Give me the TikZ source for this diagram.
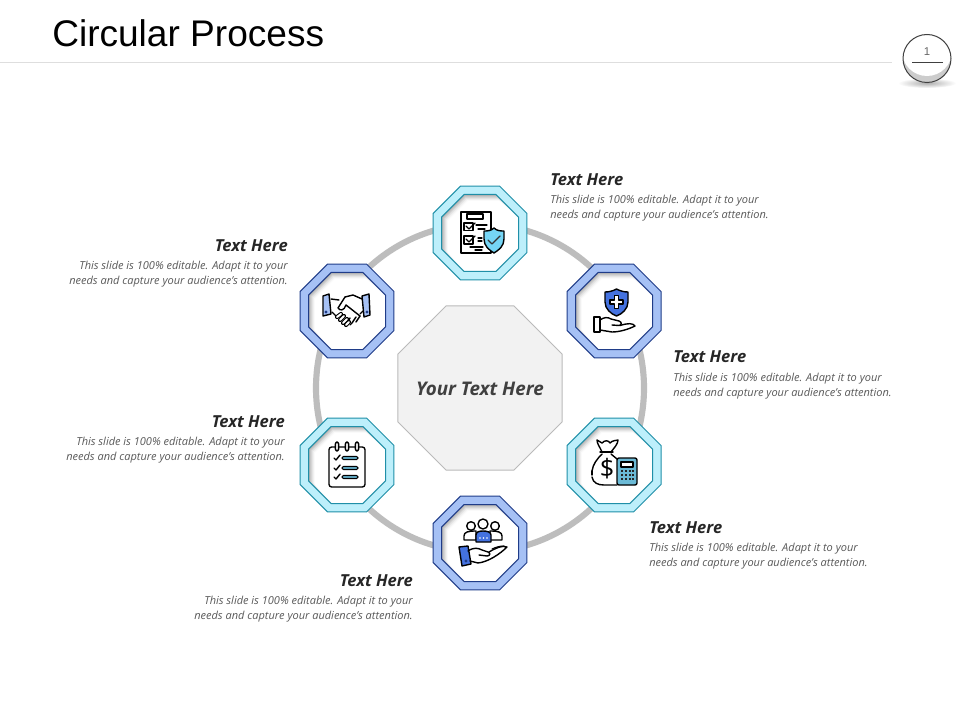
\documentclass[tikz,border=0pt]{standalone}
\usepackage{fontspec}
\setmainfont{Open Sans}
\newfontfamily\titlefont{Liberation Sans}
\usetikzlibrary{shapes.geometric}
\definecolor{cyanfill}{HTML}{BDEFFB}
\definecolor{cyanline}{HTML}{1F8FA8}
\definecolor{bluefill}{HTML}{A6C1F5}
\definecolor{blueline}{HTML}{1F3C88}
\definecolor{iconcyan}{HTML}{75D5F5}
\definecolor{iconblue}{HTML}{4472E0}
\definecolor{calcblue}{HTML}{6BBAD6}
\tikzset{
  x=0.75pt,y=-0.75pt,
  ic/.style={draw=black,line width=1.05pt,line join=round,line cap=round},
  thinic/.style={draw=black,line width=0.8pt,line join=round,line cap=round},
  octo/.style={regular polygon,regular polygon sides=8,inner sep=0pt,outer sep=0pt,minimum size=76.3pt,line width=0.75pt},
  headtxt/.style={font=\fontsize{12.4pt}{15pt}\selectfont\bfseries\itshape,text=black!85,inner sep=0pt},
  bodyL/.style={font=\fontsize{8.25pt}{11.25pt}\selectfont\itshape,text=black!65,inner sep=0pt,align=left,anchor=north west},
  bodyR/.style={font=\fontsize{8.25pt}{11.25pt}\selectfont\itshape,text=black!65,inner sep=0pt,align=right,anchor=north east},
}
\newcommand{\octoitem}[5]{%
  \node[octo,draw=#5,fill=#4] (#1) at (#2,#3) {};
  \begin{scope}[shift={(#2,#3)}]
    \begin{scope}
      \clip (-15.9,-38.5) -- (15.9,-38.5) -- (38.5,-15.9) -- (38.5,15.9) -- (15.9,38.5) -- (-15.9,38.5) -- (-38.5,15.9) -- (-38.5,-15.9) -- cycle;
      \fill[black!32] (-40,-40) rectangle (40,40);
      \foreach \k/\g in {1/24,2/17,3/11,4/6,5/2,6/0}{
        \fill[black!\g] ({-15.9+\k*0.6},{-38.5+\k*1.1}) -- ({15.9+\k*0.6},{-38.5+\k*1.1}) -- ({38.5+\k*0.8},{-15.9+\k*0.6}) -- ({38.5+\k*0.8},{15.9+\k*0.6}) -- ({15.9+\k*0.6},{38.5+\k*0.8}) -- ({-15.9+\k*0.6},{38.5+\k*0.8}) -- ({-38.5+\k*1.1},{15.9+\k*0.6}) -- ({-38.5+\k*1.1},{-15.9+\k*0.6}) -- cycle;
      }
    \end{scope}
    \draw[#5,line width=0.75pt,line join=round] (-15.9,-38.5) -- (15.9,-38.5) -- (38.5,-15.9) -- (38.5,15.9) -- (15.9,38.5) -- (-15.9,38.5) -- (-38.5,15.9) -- (-38.5,-15.9) -- cycle;
  \end{scope}
}
\newcommand{\capsule}[4]{\draw[black,line width=3.1pt,line cap=round] (#1,#2) -- (#3,#4); \draw[white,line width=1.5pt,line cap=round] (#1,#2) -- (#3,#4);}
\begin{document}
\begin{tikzpicture}
\useasboundingbox (0,0) rectangle (960,720);
\fill[white] (0,0) rectangle (960,720);

% header
\node[font=\titlefont\fontsize{27.8pt}{32pt}\selectfont,text=black,anchor=base west,inner sep=0pt] (title) at (52,47) {Circular Process};
\coordinate (ruleL) at (0,63);
\coordinate (ruleR) at (892,63);
\draw[black!13,line width=0.75pt] (ruleL) -- (ruleR);

% page badge
\shade[inner color=black!32,outer color=white] (927,83) ellipse (29 and 5);
\node[circle,minimum size=36pt,inner sep=0pt,fill=white] (badge) at (927,58.5) {};
\begin{scope}
  \clip (927,58.5) circle (24);
  \fill[black!20] (903,34) rectangle (951,83);
  \fill[white] (927,51) circle (25);
\end{scope}
\draw[black!75,line width=0.75pt] (927,58.5) circle (24);
\node[font=\fontsize{8.5pt}{10pt}\selectfont\titlefont,text=black!60,inner sep=0pt] (pageno) at (927,52) {1};
\coordinate (pl) at (912,63);
\coordinate (pr) at (943,63);
\draw[black!75,line width=0.75pt] (pl) -- (pr);

% ring
\draw[black!26,line width=4.6pt] (480,388) circle (164);

% centre
\node[octo,minimum size=133.2pt,fill=black!5,draw=black!27] (centre) at (480,388) {};
\node[font=\fontsize{14.1pt}{16pt}\selectfont\bfseries\itshape,text=black!75,inner sep=0pt] (centretxt) at (480,389) {Your Text Here};

% octagons
\octoitem{top}{480}{233}{cyanfill}{cyanline}
\octoitem{ur}{614}{311}{bluefill}{blueline}
\octoitem{lr}{614}{465}{cyanfill}{cyanline}
\octoitem{bot}{480}{543}{bluefill}{blueline}
\octoitem{ll}{347}{465}{cyanfill}{cyanline}
\octoitem{ul}{347}{311}{bluefill}{blueline}

% labels
\node[headtxt,anchor=base west] (h1) at (550,186) {Text Here};
\node[bodyL] (b1) at (550,195) {This slide is 100\% editable. Adapt it to your\\needs and capture your audience's attention.};
\node[headtxt,anchor=base west] (h2) at (673,362) {Text Here};
\node[bodyL] (b2) at (673,373) {This slide is 100\% editable. Adapt it to your\\needs and capture your audience's attention.};
\node[headtxt,anchor=base west] (h3) at (649,533) {Text Here};
\node[bodyL] (b3) at (649,543) {This slide is 100\% editable. Adapt it to your\\needs and capture your audience's attention.};
\node[headtxt,anchor=base east] (h4) at (413,586) {Text Here};
\node[bodyR] (b4) at (413,596) {This slide is 100\% editable. Adapt it to your\\needs and capture your audience's attention.};
\node[headtxt,anchor=base east] (h5) at (285,427) {Text Here};
\node[bodyR] (b5) at (285,437) {This slide is 100\% editable. Adapt it to your\\needs and capture your audience's attention.};
\node[headtxt,anchor=base east] (h6) at (288,252) {Text Here};
\node[bodyR] (b6) at (288,261) {This slide is 100\% editable. Adapt it to your\\needs and capture your audience's attention.};

% icon: checklist + shield
\begin{scope}[shift={(480,233)}]
  \draw[ic,fill=white] (-19,-21) rectangle (11,20);
  \draw[thinic] (-13,-19) rectangle (3,-14);
  \draw[thinic] (-16,-10) rectangle (-7,-2.5);
  \draw[thinic] (-16,3) rectangle (-7,11);
  \draw[ic] (-14,-7) -- (-11,-4) -- (-5,-10);
  \draw[ic] (-14,6) -- (-11,9) -- (-5,3);
  \draw[thinic] (-4,-8) -- (7,-8) (-2,-4) -- (5,-4) (-2,5) -- (2,5) (-2,8) -- (2,8) (-10,14) -- (3,14) (-5,17) -- (2,17);
  \draw[ic,fill=iconcyan] (14,-5) .. controls (11,-2) and (7,-2) .. (4,-2) -- (4,6) .. controls (4,13) and (9,17) .. (14,20) .. controls (19,17) and (24,13) .. (24,6) -- (24,-2) .. controls (21,-2) and (17,-2) .. (14,-5) -- cycle;
  \draw[ic,draw=black!80] (8,7) -- (12,11) -- (20,3);
\end{scope}

% icon: shield + hand
\begin{scope}[shift={(614,311)}]
  \draw[ic,fill=iconblue] (2.5,-22) .. controls (-1,-20) and (-5,-19) .. (-9,-19) -- (-9,-9) .. controls (-9,-2) and (-3,3) .. (2.5,5) .. controls (8,3) and (14,-2) .. (14,-9) -- (14,-19) .. controls (10,-19) and (6,-20) .. (2.5,-22) -- cycle;
  \draw[ic,fill=white] (0.5,-15.5) -- (4.5,-15.5) -- (4.5,-11) -- (9,-11) -- (9,-7) -- (4.5,-7) -- (4.5,-2.5) -- (0.5,-2.5) -- (0.5,-7) -- (-4,-7) -- (-4,-11) -- (0.5,-11) -- cycle;
  \draw[ic,fill=white] (-20,6) rectangle (-14,21);
  \draw[ic] (-14,9) .. controls (-10,6) and (-6,6) .. (-3,8) -- (5,10) .. controls (8,11) and (8,14) .. (5,14.5) -- (-2,14);
  \draw[ic] (-14,19) -- (-2,21) .. controls (6,21) and (15,18) .. (21,15) .. controls (19,12) and (14,12) .. (6,14.5);
\end{scope}

% icon: handshake
\begin{scope}[shift={(347,311)}]
  \draw[ic,fill=bluefill] (-24,-15) -- (-18,-17) -- (-16,3) -- (-24,5) -- cycle;
  \draw[ic,fill=bluefill] (15,-15) -- (22,-17) -- (23,4) -- (17,6) -- cycle;
  \fill[blueline] (-21,1) circle (1.7) (20,1) circle (1.7);
  \draw[ic] (-16,-12) -- (-8,-11) (-2,-14) -- (6,-16) -- (15,-12);
  \draw[ic] (-9,-3) -- (-2,-14) (-9,-3) .. controls (-7,0) and (-3,0) .. (-1,-6) -- (13,5);
  \draw[ic] (16,0) -- (13,3) (13,5) -- (9,11) (9,6) -- (5,12) -- (3,14) (3,7) -- (0,12);
  \draw[ic] (-15,1) -- (-11,5);
  \capsule{-10}{6}{-6}{3}
  \capsule{-7}{9}{-3}{5}
  \capsule{-4}{12}{0}{8}
  \capsule{-1}{14}{2}{11}
\end{scope}

% icon: notepad
\begin{scope}[shift={(347,465)}]
  \draw[ic,rounded corners=2pt,fill=white] (-18,-18) rectangle (18,22);
  \foreach \q in {-10,0,10}{
    \draw[ic,fill=white,rounded corners=1.5pt] ({\q-1.6},-23) rectangle ({\q+1.6},-14);
  }
  \foreach \q in {-7,3,12}{
    \draw[ic] (-13,\q) -- (-11,{\q+2}) -- (-7,{\q-3});
    \draw[thinic,fill=calcblue,rounded corners=1pt] (-5,{\q-1.5}) rectangle (11,{\q+1.5});
  }
\end{scope}

% icon: people + hand
\begin{scope}[shift={(480,543)}]
  \draw[ic,fill=white] (-16,-3) -- (-16,-7) .. controls (-16,-11) and (-12,-12) .. (-4,-12) -- (-4,-3) -- cycle;
  \draw[ic,fill=white] (22,-3) -- (22,-7) .. controls (22,-11) and (18,-12) .. (10,-12) -- (10,-3) -- cycle;
  \draw[ic,fill=white] (-9,-17) circle (4.3);
  \draw[ic,fill=white] (15,-17) circle (4.3);
  \draw[ic,fill=iconblue] (-4,-1) -- (-4,-8) .. controls (-4,-11) and (-1,-12) .. (3,-12) .. controls (7,-12) and (11,-11) .. (11,-8) -- (11,-1) -- cycle;
  \fill[white] (0,-5) circle (0.9) (3.5,-5) circle (0.9) (7,-5) circle (0.9);
  \draw[ic,fill=white] (3,-19) circle (5);
  \draw[ic,fill=iconblue] (-21,4) -- (-12,3) -- (-9,21) -- (-18,23) -- cycle;
  \fill[blueline] (-14,18) circle (1.7);
  \draw[ic] (-12,8) .. controls (-6,4) and (-2,5) .. (2,7) -- (8,9) .. controls (11,10) and (10,13) .. (7,13) -- (-1,12);
  \draw[ic] (-10,18) -- (-2,20) .. controls (8,19) and (20,11) .. (27,4) .. controls (22,2) and (16,5) .. (9,9);
  \draw[thinic] (12,6) .. controls (16,4) and (20,3) .. (24,3);
\end{scope}

% icon: money bag + calculator
\begin{scope}[shift={(614,465)}]
  \draw[ic,fill=white] (-12,-13) .. controls (-14,-18) and (-17,-21) .. (-17,-25) -- (-12,-22) .. controls (-9,-25) and (-6,-25) .. (-4,-22) .. controls (-1,-25) and (1,-24) .. (4,-25) .. controls (4,-21) and (0,-17) .. (-3,-13) -- cycle;
  \draw[ic,rounded corners=1pt] (-14,-13) -- (-1,-13);
  \draw[ic] (-12,-11) .. controls (-17,-6) and (-21,-1) .. (-22,6);
  \draw[ic,dashed] (-22,6) -- (-22,12);
  \draw[ic] (-22,12) .. controls (-21,18) and (-16,20) .. (-10,20) -- (3,20);
  \draw[ic] (-3,-11) .. controls (-1,-9) and (1,-8) .. (3,-6);
  \node[font=\fontsize{19pt}{20pt}\selectfont,text=black,inner sep=0pt] (dollar) at (-7,4) {\$};
  \draw[ic,rounded corners=1.5pt,fill=calcblue] (3,-7) rectangle (23,20);
  \draw[thinic,fill=white] (7,-3) rectangle (19,2);
  \foreach \a in {7.5,11.5,15.5,19}{
    \foreach \b in {6,10,14}{
      \fill[black!85] ({\a-1},{\b-.7}) rectangle ({\a+1},{\b+.7});
    }
  }
\end{scope}
\end{tikzpicture}
\end{document}
